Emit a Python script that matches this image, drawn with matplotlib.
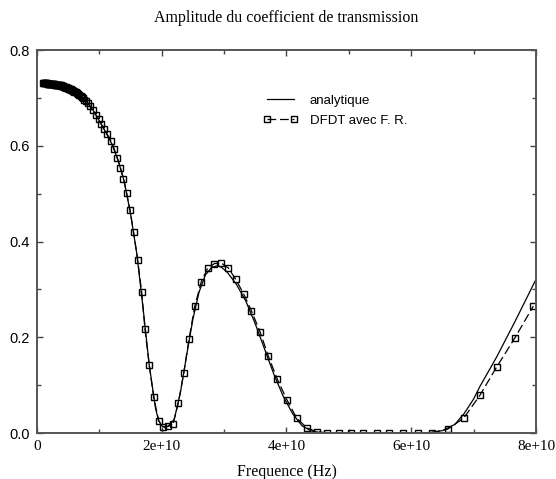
import matplotlib.pyplot as plt
from matplotlib.ticker import MultipleLocator, FuncFormatter

# frequencies in units of 1e10 Hz
f_ana = [0.10, 0.30, 0.50, 0.70, 0.80, 0.90, 1.00, 1.10, 1.20, 1.30,
         1.40, 1.50, 1.60, 1.70, 1.80, 1.90, 1.95, 2.00, 2.05, 2.10,
         2.20, 2.30, 2.40, 2.50, 2.60, 2.70, 2.80, 2.88, 2.95, 3.05,
         3.20, 3.35, 3.50, 3.65, 3.80, 3.95, 4.10, 4.25, 4.40, 4.60,
         5.00, 5.50, 6.00, 6.30, 6.50, 6.70, 6.85, 7.00, 7.10, 7.37,
         7.66, 8.00]
t_ana = [0.731, 0.729, 0.722, 0.707, 0.692, 0.674, 0.652, 0.629, 0.604, 0.570,
         0.525, 0.458, 0.375, 0.262, 0.142, 0.052, 0.026, 0.015, 0.012, 0.014,
         0.028, 0.085, 0.163, 0.238, 0.295, 0.330, 0.346, 0.349, 0.347, 0.336,
         0.310, 0.275, 0.228, 0.175, 0.122, 0.076, 0.040, 0.015, 0.004, 0.000,
         0.000, 0.000, 0.000, 0.001, 0.005, 0.018, 0.041, 0.071, 0.097, 0.159,
         0.232, 0.321]

f_dfdt = [0.10, 0.11, 0.12, 0.13, 0.14, 0.15, 0.16, 0.17, 0.18, 0.19,
          0.20, 0.21, 0.22, 0.23, 0.24, 0.25, 0.26, 0.27, 0.28, 0.29,
          0.30, 0.31, 0.32, 0.33, 0.34, 0.35, 0.36, 0.37, 0.38, 0.39,
          0.40, 0.41, 0.42, 0.43, 0.44, 0.45, 0.46, 0.47, 0.48, 0.49,
          0.50, 0.51, 0.52, 0.53, 0.54, 0.55, 0.56, 0.57, 0.58, 0.59,
          0.60, 0.62, 0.64, 0.66, 0.68, 0.70, 0.72, 0.74, 0.76, 0.78,
          0.813, 0.855, 0.898, 0.941, 0.989,
          1.026, 1.069, 1.122, 1.190, 1.239, 1.286, 1.339, 1.387, 1.438, 1.491,
          1.550, 1.614, 1.679, 1.731, 1.800, 1.871, 1.951, 2.020, 2.105, 2.180,
          2.265, 2.353, 2.437, 2.530, 2.634, 2.735, 2.846, 2.953, 3.067, 3.187,
          3.312, 3.439, 3.577, 3.708, 3.851, 4.008, 4.164, 4.324, 4.494, 4.657,
          4.848, 5.034, 5.234, 5.444, 5.650, 5.876, 6.103, 6.337, 6.584, 6.841,
          7.102, 7.370, 7.663, 7.957]
t_dfdt = [0.731, 0.731, 0.731, 0.731, 0.731, 0.731, 0.731, 0.730, 0.730, 0.730,
          0.730, 0.730, 0.730, 0.729, 0.729, 0.729, 0.729, 0.729, 0.729, 0.728,
          0.728, 0.728, 0.728, 0.727, 0.727, 0.727, 0.726, 0.726, 0.726, 0.725,
          0.725, 0.724, 0.724, 0.723, 0.723, 0.722, 0.722, 0.721, 0.721, 0.720,
          0.720, 0.719, 0.719, 0.718, 0.718, 0.717, 0.716, 0.715, 0.715, 0.714,
          0.713, 0.712, 0.710, 0.708, 0.706, 0.704, 0.701, 0.699, 0.696, 0.694,
          0.690, 0.683, 0.674, 0.665, 0.656,
          0.646, 0.636, 0.625, 0.610, 0.593, 0.575, 0.554, 0.531, 0.501, 0.466,
          0.419, 0.362, 0.294, 0.217, 0.142, 0.075, 0.026, 0.013, 0.014, 0.019,
          0.062, 0.125, 0.196, 0.265, 0.316, 0.344, 0.354, 0.355, 0.345, 0.321,
          0.291, 0.255, 0.211, 0.161, 0.113, 0.069, 0.031, 0.011, 0.002, 0.001,
          0.000, 0.000, 0.000, 0.000, 0.000, 0.000, 0.000, 0.001, 0.008, 0.031,
          0.079, 0.138, 0.199, 0.265]

serif = 'Liberation Serif'
sans = 'Liberation Sans'

fig = plt.figure(figsize=(5.56, 4.79), dpi=100)
ax = fig.add_axes([0.0665, 0.096, 0.8975, 0.7995])

ax.plot([f * 1e10 for f in f_ana], t_ana, '-', color='black', lw=0.9,
        label='analytique')
ax.plot([f * 1e10 for f in f_dfdt], t_dfdt, color='black', lw=0.9,
        linestyle=(0, (7, 3)), marker='s', markersize=4, mfc='none',
        mec='black', mew=1.0, label='DFDT avec F. R.')

ax.set_xlim(0, 8e10)
ax.set_ylim(0, 0.8)
ax.xaxis.set_major_locator(MultipleLocator(2e10))
ax.xaxis.set_minor_locator(MultipleLocator(1e10))
ax.yaxis.set_major_locator(MultipleLocator(0.2))
ax.yaxis.set_minor_locator(MultipleLocator(0.1))
ax.xaxis.set_major_formatter(FuncFormatter(
    lambda v, p: '0' if v == 0 else '%de+10' % round(v / 1e10)))
ax.yaxis.set_major_formatter(FuncFormatter(lambda v, p: '%.1f' % v))

for s in ax.spines.values():
    s.set_color('#555555')
    s.set_linewidth(1.4)
ax.tick_params(which='both', direction='in', top=True, right=True,
               color='#444444', width=1.0)
ax.tick_params(which='major', length=4, pad=5)
ax.tick_params(which='minor', length=3)
for lab in ax.get_xticklabels():
    lab.set_fontfamily(serif)
    lab.set_fontsize(11)
for lab in ax.get_yticklabels():
    lab.set_fontfamily(sans)
    lab.set_fontsize(10.5)

ax.set_title('Amplitude du coefficient de transmission', family=serif,
             fontsize=11.5, pad=20)
ax.set_xlabel('Frequence (Hz)', family=serif, fontsize=11.5, labelpad=8)

ax.legend(loc='upper left', bbox_to_anchor=(0.43, 0.915), frameon=False,
          numpoints=2, handlelength=2.6, handletextpad=0.9, labelspacing=0.6,
          prop={'family': sans, 'size': 9.5})

fig.savefig('out.png', dpi=100)
